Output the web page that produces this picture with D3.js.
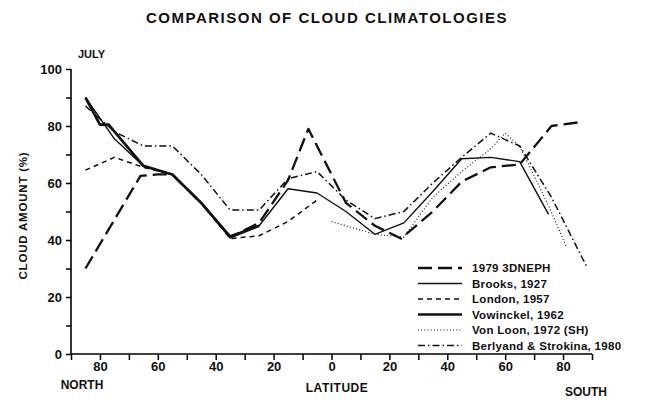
<!DOCTYPE html>
<html>
<head>
<meta charset="utf-8">
<script src="https://cdn.jsdelivr.net/npm/d3@7"></script>
<style>
  body { margin: 0; background: #fff; }
  text { font-family: "Liberation Sans", Arial, sans-serif; font-weight: bold; fill: #111; }
</style>
</head>
<body>
<div id="chart"></div>
<script>
// latitude: negative = north, positive = south
const nephLat = [-85, -66, -60, -55, -45, -35, -25, -15, -8, 5, 15, 24, 35, 45, 55, 65, 76, 87];
const nephVal = [30, 62.5, 63, 63, 53, 41, 46, 61, 79, 53, 45, 40.5, 50, 60.5, 65.5, 66.5, 80, 81.5];

const brooksLat = [-85, -75, -65, -55, -45, -35, -25, -15, -5, 5, 15, 25, 35, 45, 55, 65, 75];
const brooksVal = [90, 75.5, 66, 63, 53, 41.5, 45, 58, 56.5, 50, 42, 46, 57, 68.5, 69, 67.5, 49];

const londonLat = [-85, -75, -65, -55, -45, -35, -25, -15, -5];
const londonVal = [64.5, 69, 65.5, 63, 53, 40.5, 41.5, 46.5, 54];

const vowLat = [-85, -80, -77, -65, -55, -45, -35, -25];
const vowVal = [90, 80.5, 80.5, 66, 63, 53, 41, 45];

const loonLat = [0, 15, 25, 35, 45, 55, 60, 65, 75, 81];
const loonVal = [46.5, 42, 41, 55, 64, 72, 77.5, 73, 52, 38];

const berlLat = [-85, -75, -65, -55, -45, -35, -25, -15, -5, 5, 15, 25, 35, 45, 55, 65, 76, 88];
const berlVal = [87, 78, 73, 73, 63, 50.5, 50.5, 61.5, 64, 54, 47.5, 50, 60, 69, 77.5, 73, 55, 31];

const seriesNames = ['1979 3DNEPH', 'Brooks, 1927', 'London, 1957', 'Vowinckel, 1962', 'Von Loon, 1972 (SH)', 'Berlyand & Strokina, 1980'];
const latTicks = [-80, -60, -40, -20, 0, 20, 40, 60, 80];
const yTicks = [0, 20, 40, 60, 80, 100];

const styles = [
  { w: 2.3, dash: '14,6' },
  { w: 1.4, dash: null },
  { w: 1.5, dash: '5,4' },
  { w: 2.7, dash: null },
  { w: 1.1, dash: '1,2.2' },
  { w: 1.5, dash: '7,3,1.5,3' }
];

const W = 648, H = 402;
const svg = d3.select('#chart').append('svg').attr('width', W).attr('height', H);

const x = d3.scaleLinear().domain([-90, 90]).range([71, 592]);
const y = d3.scaleLinear().domain([0, 100]).range([354, 69]);

// title
svg.append('text').attr('x', 327).attr('y', 23).attr('text-anchor', 'middle')
  .style('font-size', '15px').style('letter-spacing', '1.5px')
  .text('COMPARISON OF CLOUD CLIMATOLOGIES');

svg.append('text').attr('x', 78).attr('y', 58).style('font-size', '11px').text('JULY');

// y axis
const yAxis = svg.append('g').attr('transform', `translate(${x(-90)},0)`)
  .call(d3.axisLeft(y).tickValues(d3.range(0, 101, 10)).tickSize(5)
    .tickFormat(d => yTicks.includes(d) ? d : ''));
yAxis.select('.domain').attr('stroke-width', 1.6).attr('d', `M0,${y(100)}V${y(0)}`);
yAxis.selectAll('.tick line').attr('stroke-width', 1.5);
yAxis.selectAll('.tick text').style('font-size', '13px').attr('x', -9)
  .style('font-family', '"Liberation Sans", Arial, sans-serif').style('font-weight', 'bold');

svg.append('text').attr('transform', `translate(27,${y(50) + 4}) rotate(-90)`)
  .attr('text-anchor', 'middle').style('font-size', '11.5px').style('letter-spacing', '0.8px')
  .text('CLOUD AMOUNT (%)');

// x axis
const xAxis = svg.append('g').attr('transform', `translate(0,${y(0)})`)
  .call(d3.axisBottom(x).tickValues(d3.range(-90, 91, 10)).tickSize(6)
    .tickFormat(d => latTicks.includes(d) ? Math.abs(d) : ''));
xAxis.select('.domain').attr('stroke-width', 1.6).attr('d', `M${x(-90)},0H${x(90)}`);
xAxis.selectAll('.tick line').attr('stroke-width', 1.5);
xAxis.selectAll('.tick text').style('font-size', '13px').attr('y', 8)
  .style('font-family', '"Liberation Sans", Arial, sans-serif').style('font-weight', 'bold');

svg.append('text').attr('x', 82).attr('y', 389).attr('text-anchor', 'middle').style('font-size', '12px').text('NORTH');
svg.append('text').attr('x', 337).attr('y', 392).attr('text-anchor', 'middle').style('font-size', '12px').style('letter-spacing', '0.5px').text('LATITUDE');
svg.append('text').attr('x', 586).attr('y', 396).attr('text-anchor', 'middle').style('font-size', '12px').text('SOUTH');

// lines
const lats = [nephLat, brooksLat, londonLat, vowLat, loonLat, berlLat];
const vals = [nephVal, brooksVal, londonVal, vowVal, loonVal, berlVal];
const line = d3.line().x(d => x(d[0])).y(d => y(d[1]));

lats.forEach((la, i) => {
  const pts = la.map((d, j) => [d, vals[i][j]]);
  svg.append('path').datum(pts)
    .attr('fill', 'none').attr('stroke', '#111')
    .attr('stroke-width', styles[i].w)
    .attr('stroke-dasharray', styles[i].dash)
    .attr('stroke-linejoin', 'round')
    .attr('d', line);
});

// legend
const lg = svg.append('g');
seriesNames.forEach((name, i) => {
  const ly = 268 + i * 15.5;
  lg.append('line').attr('x1', 418).attr('x2', 462).attr('y1', ly).attr('y2', ly)
    .attr('stroke', '#111').attr('stroke-width', styles[i].w)
    .attr('stroke-dasharray', styles[i].dash);
  lg.append('text').attr('x', 472).attr('y', ly + 4).style('font-size', '11.5px')
    .style('letter-spacing', '0.3px').text(name);
});
</script>
</body>
</html>
